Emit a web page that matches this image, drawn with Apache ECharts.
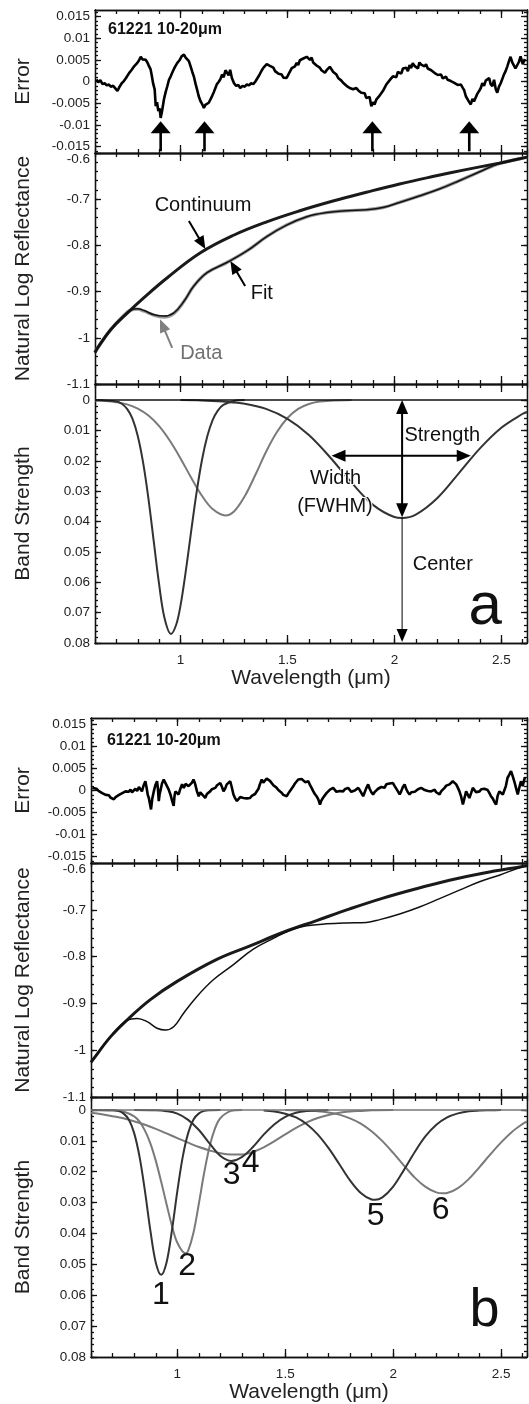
<!DOCTYPE html>
<html><head><meta charset="utf-8">
<script src="https://cdn.jsdelivr.net/npm/echarts@6/dist/echarts.min.js"></script>
<style>html,body{margin:0;padding:0;background:#fff}#c{width:529px;height:1404px}</style>
</head><body><div id="c"></div>
<script>
const FONT = '"Liberation Sans", Arial, Helvetica, sans-serif';

// ---------- tick labels ----------
const xTickLabels = [1, 1.5, 2, 2.5];
const errTickLabels = [-0.015, -0.01, -0.005, 0, 0.005, 0.01, 0.015];
const reflTickLabels = [-1.1, -1, -0.9, -0.8, -0.7, -0.6];
const bandTickLabels = [0, 0.01, 0.02, 0.03, 0.04, 0.05, 0.06, 0.07, 0.08];
const xAxisTitle = 'Wavelength (μm)';
const sampleName = '61221 10-20μm';

// ---------- panel a : error ----------
const errorA = [
[0.607,0.0005],[0.615,-0.0002],[0.625,0.0003],[0.635,-0.0006],[0.645,-0.0004],[0.655,-0.0009],[0.665,-0.0007],[0.674,-0.0012],[0.685,-0.0010],[0.695,-0.0016],
[0.705,-0.0022],[0.715,-0.0012],[0.725,-0.0004],[0.735,0.0001],[0.745,0.0008],[0.752,0.0012],[0.760,0.0020],[0.770,0.0026],[0.783,0.0035],[0.790,0.0033],
[0.798,0.0043],[0.806,0.0049],[0.814,0.0057],[0.822,0.0051],[0.830,0.0055],[0.837,0.0050],[0.845,0.0044],[0.852,0.0036],[0.860,0.0028],[0.866,0.0012],
[0.872,-0.0005],[0.879,-0.0018],[0.884,-0.0057],[0.890,-0.0048],[0.896,-0.0068],[0.902,-0.0062],[0.907,-0.0084],[0.913,-0.0070],[0.918,-0.0055],[0.922,-0.0042],
[0.930,-0.0025],[0.938,-0.0011],[0.946,0.0004],[0.954,0.0012],[0.961,0.0020],[0.970,0.0030],[0.978,0.0037],[0.985,0.0043],[0.995,0.0049],[1.005,0.0058],
[1.016,0.0062],[1.024,0.0055],[1.031,0.0058],[1.039,0.0047],[1.047,0.0035],[1.055,0.0022],[1.062,0.0012],[1.070,-0.0005],[1.078,-0.0020],[1.085,-0.0034],
[1.093,-0.0045],[1.101,-0.0052],[1.109,-0.0061],[1.116,-0.0054],[1.124,-0.0058],[1.132,-0.0049],[1.140,-0.0045],[1.148,-0.0033],[1.156,-0.0024],[1.163,-0.0015],
[1.170,-0.0006],[1.178,-0.0001],[1.186,0.0005],[1.194,0.0016],[1.202,0.0010],[1.210,0.0026],[1.217,0.0024],[1.225,0.0014],[1.232,0.0027],[1.240,0.0008],
[1.250,-0.0004],[1.260,-0.0010],[1.270,-0.0008],[1.279,-0.0015],[1.290,-0.0010],[1.300,-0.0012],[1.310,-0.0007],[1.320,-0.0009],[1.330,-0.0004],[1.340,-0.0006],
[1.350,0.0000],[1.357,0.0001],[1.365,0.0012],[1.372,0.0010],[1.380,0.0026],[1.388,0.0032],[1.395,0.0029],[1.403,0.0040],[1.411,0.0043],[1.418,0.0036],
[1.426,0.0039],[1.434,0.0032],[1.442,0.0024],[1.450,0.0028],[1.458,0.0018],[1.466,0.0020],[1.473,0.0016],[1.481,0.0009],[1.489,0.0013],[1.496,0.0008],
[1.504,0.0016],[1.512,0.0020],[1.520,0.0031],[1.527,0.0028],[1.535,0.0035],[1.543,0.0043],[1.550,0.0038],[1.558,0.0049],[1.566,0.0047],[1.574,0.0053],
[1.582,0.0050],[1.590,0.0057],[1.597,0.0058],[1.605,0.0050],[1.613,0.0055],[1.620,0.0044],[1.628,0.0047],[1.636,0.0037],[1.643,0.0040],[1.651,0.0032],
[1.659,0.0026],[1.667,0.0028],[1.675,0.0020],[1.683,0.0026],[1.690,0.0022],[1.698,0.0034],[1.706,0.0032],[1.714,0.0022],[1.722,0.0025],[1.729,0.0016],
[1.737,0.0008],[1.745,0.0012],[1.752,0.0002],[1.760,-0.0003],[1.768,-0.0001],[1.776,-0.0010],[1.784,-0.0008],[1.791,-0.0015],[1.799,-0.0012],[1.807,-0.0018],
[1.815,-0.0014],[1.822,-0.0015],[1.830,-0.0020],[1.838,-0.0019],[1.845,-0.0026],[1.853,-0.0030],[1.861,-0.0027],[1.868,-0.0038],[1.876,-0.0042],[1.884,-0.0036],
[1.892,-0.0057],[1.899,-0.0048],[1.907,-0.0053],[1.915,-0.0042],[1.922,-0.0046],[1.930,-0.0033],[1.938,-0.0030],[1.946,-0.0022],[1.954,-0.0018],[1.962,-0.0007],
[1.970,-0.0002],[1.978,0.0003],[1.985,0.0001],[1.993,0.0012],[2.001,0.0016],[2.009,0.0010],[2.016,0.0022],[2.024,0.0024],[2.032,0.0018],[2.040,0.0030],
[2.047,0.0027],[2.055,0.0032],[2.063,0.0024],[2.071,0.0038],[2.078,0.0031],[2.086,0.0042],[2.094,0.0036],[2.102,0.0040],[2.110,0.0030],[2.117,0.0044],
[2.125,0.0039],[2.133,0.0043],[2.141,0.0035],[2.148,0.0040],[2.156,0.0030],[2.164,0.0032],[2.172,0.0026],[2.179,0.0028],[2.187,0.0020],[2.195,0.0024],
[2.203,0.0015],[2.210,0.0012],[2.218,0.0016],[2.226,0.0007],[2.233,0.0005],[2.241,0.0011],[2.249,0.0004],[2.257,0.0008],[2.264,0.0001],[2.272,0.0004],
[2.280,-0.0003],[2.288,0.0000],[2.296,-0.0008],[2.303,-0.0005],[2.311,-0.0007],[2.319,-0.0014],[2.326,-0.0020],[2.334,-0.0034],[2.342,-0.0030],[2.349,-0.0047],
[2.357,-0.0053],[2.365,-0.0040],[2.372,-0.0046],[2.380,-0.0042],[2.388,-0.0028],[2.396,-0.0022],[2.404,-0.0015],[2.411,-0.0004],[2.419,-0.0010],[2.427,0.0002],
[2.435,0.0000],[2.443,0.0008],[2.450,-0.0006],[2.458,-0.0011],[2.466,0.0004],[2.474,-0.0018],[2.481,-0.0026],[2.489,-0.0012],[2.497,-0.0004],[2.504,0.0005],
[2.512,0.0016],[2.520,0.0024],[2.528,0.0035],[2.535,0.0046],[2.543,0.0057],[2.551,0.0044],[2.559,0.0040],[2.566,0.0030],[2.574,0.0028],[2.582,0.0045],
[2.590,0.0058],[2.600,0.0040],[2.610,0.0052]
];
const errArrowsA = [[0.907,-0.0161,0.907,-0.0092],[1.112,-0.0161,1.112,-0.0092],[1.897,-0.0161,1.897,-0.0092],[2.350,-0.0161,2.350,-0.0092]];

// ---------- panel a : reflectance ----------
const continuumA = [[0.600,-1.032],[0.612,-1.022],[0.674,-0.982],[0.752,-0.946],[0.829,-0.913],[0.938,-0.870],[1.093,-0.816],[1.248,-0.778],[1.403,-0.749],[1.558,-0.725],[1.713,-0.704],[1.869,-0.685],[2.024,-0.667],[2.179,-0.651],[2.334,-0.636],[2.489,-0.622],[2.590,-0.612],[2.620,-0.609]];
const fitA = [[0.600,-1.032],[0.612,-1.022],[0.674,-0.982],[0.730,-0.954],[0.767,-0.940],[0.798,-0.937],[0.829,-0.941],[0.876,-0.950],[0.922,-0.953],[0.969,-0.946],[1.016,-0.921],[1.062,-0.888],[1.124,-0.859],[1.217,-0.837],[1.310,-0.812],[1.403,-0.781],[1.496,-0.756],[1.590,-0.738],[1.683,-0.729],[1.776,-0.725],[1.869,-0.723],[1.946,-0.718],[2.024,-0.707],[2.117,-0.693],[2.210,-0.678],[2.303,-0.660],[2.396,-0.641],[2.489,-0.623],[2.590,-0.612],[2.620,-0.609]];
const dataA = [[0.600,-1.032],[0.612,-1.022],[0.674,-0.982],[0.730,-0.954],[0.767,-0.940],[0.798,-0.938],[0.829,-0.942],[0.876,-0.951],[0.922,-0.955],[0.969,-0.947],[1.016,-0.921],[1.062,-0.888],[1.124,-0.859],[1.217,-0.837],[1.310,-0.812],[1.403,-0.781],[1.496,-0.756],[1.590,-0.738],[1.683,-0.729],[1.776,-0.725],[1.869,-0.723],[1.946,-0.718],[2.024,-0.707],[2.117,-0.693],[2.210,-0.678],[2.303,-0.660],[2.396,-0.641],[2.489,-0.623],[2.590,-0.612],[2.620,-0.609]];
const reflArrowsA = [[1.039,-0.747,1.116,-0.808],[1.302,-0.888,1.233,-0.834]];
const dataArrowA = [[0.961,-1.022,0.904,-0.960]];
const reflTextPtsA = [[1.105,-0.7145],[1.380,-0.904]];
const reflTextsA = ['Continuum','Fit'];
const dataTextPtA = [[1.097,-1.033]];
const dataTextA = ['Data'];

// ---------- panel a : band strength ----------
const band1A = [[0.60,0],[0.70,0.0005],[0.725,0.0012],[0.75,0.0029],[0.775,0.0061],[0.80,0.0118],[0.825,0.0206],[0.85,0.0325],[0.875,0.0467],[0.90,0.0608],[0.925,0.0718],[0.955,0.0770],[0.98,0.0739],[1.00,0.0676],[1.025,0.0561],[1.05,0.0430],[1.075,0.0304],[1.10,0.0198],[1.125,0.0119],[1.15,0.0066],[1.175,0.0034],[1.20,0.0016],[1.25,0.0003],[1.30,0]];
const band2A = [[0.60,0.0001],[0.65,0.0003],[0.70,0.0007],[0.75,0.0014],[0.80,0.0028],[0.85,0.0051],[0.90,0.0086],[0.95,0.0134],[1.00,0.0192],[1.05,0.0256],[1.10,0.0315],[1.15,0.0359],[1.21,0.0380],[1.25,0.0367],[1.30,0.0317],[1.35,0.0246],[1.40,0.0170],[1.45,0.0106],[1.50,0.0059],[1.55,0.0029],[1.60,0.0013],[1.65,0.0005],[1.70,0.0002],[1.80,0]];
const band3A = [[1.00,0],[1.10,0.0001],[1.20,0.0005],[1.30,0.0012],[1.40,0.0029],[1.50,0.0062],[1.60,0.0115],[1.70,0.0189],[1.80,0.0272],[1.90,0.0345],[2.00,0.0385],[2.036,0.0388],[2.10,0.0377],[2.20,0.0323],[2.30,0.0242],[2.40,0.0159],[2.50,0.0091],[2.60,0.0045],[2.62,0.0039]];
const doubleArrowsA = [[2.036,0,2.036,0.0386],[1.706,0.0183,2.357,0.0183]];
const centerArrowA = [[2.036,0.0388,2.036,0.0797]];
const bandLeftTextPtsA = [[2.047,0.0117],[2.086,0.0543]];
const bandLeftTextsA = ['Strength','Center'];
const bandMidTextPtsA = [[1.725,0.0259],[1.722,0.0349]];
const bandMidTextsA = ['Width','(FWHM)'];
const letterPtA = [[2.424,0.0683]];

// ---------- panel b : error ----------
const errorB = [
[0.606,0.0006],[0.615,0.0002],[0.625,0.0004],[0.635,-0.0001],[0.644,-0.0002],[0.652,-0.0006],[0.660,-0.0004],[0.668,-0.0010],[0.675,-0.0013],[0.683,-0.0011],
[0.690,-0.0016],[0.698,-0.0014],[0.706,-0.0020],[0.714,-0.0015],[0.722,-0.0016],[0.730,-0.0010],[0.737,-0.0013],[0.745,-0.0006],[0.753,-0.0008],[0.760,-0.0002],
[0.768,0.0000],[0.775,-0.0003],[0.783,0.0002],[0.790,-0.0004],[0.798,-0.0002],[0.806,0.0004],[0.814,-0.0001],[0.822,0.0008],[0.829,0.0006],[0.836,-0.0002],
[0.844,0.0012],[0.852,0.0021],[0.858,0.0005],[0.863,-0.0010],[0.868,-0.0017],[0.873,-0.0030],[0.878,-0.0043],[0.884,-0.0018],[0.891,-0.0002],[0.898,0.0012],
[0.906,0.0021],[0.910,0.0004],[0.914,-0.0024],[0.918,-0.0008],[0.921,-0.0002],[0.929,0.0016],[0.937,0.0025],[0.944,0.0018],[0.952,0.0014],[0.960,0.0002],
[0.968,-0.0009],[0.975,-0.0022],[0.983,-0.0035],[0.987,-0.0012],[0.991,-0.0002],[0.998,-0.0006],[1.006,-0.0009],[1.014,0.0004],[1.022,0.0014],[1.030,0.0006],
[1.038,0.0015],[1.045,0.0017],[1.052,0.0010],[1.060,0.0006],[1.068,0.0018],[1.075,0.0025],[1.079,0.0020],[1.083,0.0014],[1.091,-0.0002],[1.099,-0.0013],
[1.106,-0.0004],[1.114,-0.0002],[1.121,-0.0012],[1.129,-0.0017],[1.137,-0.0008],[1.144,-0.0004],[1.152,-0.0002],[1.160,0.0003],[1.168,0.0000],[1.176,0.0006],
[1.184,0.0012],[1.192,0.0010],[1.199,0.0017],[1.207,0.0008],[1.214,-0.0002],[1.222,0.0005],[1.229,0.0014],[1.237,0.0012],[1.245,0.0021],[1.252,0.0008],
[1.260,-0.0009],[1.268,-0.0018],[1.276,-0.0024],[1.284,-0.0020],[1.291,-0.0015],[1.299,-0.0018],[1.306,-0.0017],[1.314,-0.0014],[1.322,-0.0018],[1.330,-0.0016],
[1.337,-0.0017],[1.345,-0.0012],[1.353,-0.0014],[1.360,-0.0008],[1.368,-0.0009],[1.376,0.0004],[1.383,0.0015],[1.391,0.0025],[1.398,0.0018],[1.406,0.0021],
[1.414,0.0027],[1.422,0.0029],[1.429,0.0022],[1.437,0.0021],[1.445,0.0012],[1.452,0.0008],[1.460,0.0006],[1.468,0.0001],[1.475,-0.0003],[1.483,-0.0005],
[1.491,-0.0010],[1.499,-0.0008],[1.507,-0.0013],[1.515,-0.0006],[1.522,-0.0001],[1.530,0.0002],[1.538,0.0010],[1.545,0.0016],[1.553,0.0020],[1.560,0.0025],
[1.568,0.0022],[1.576,0.0026],[1.584,0.0025],[1.592,0.0019],[1.600,0.0023],[1.607,0.0021],[1.615,0.0012],[1.622,0.0006],[1.630,-0.0002],[1.637,-0.0008],
[1.645,-0.0013],[1.653,-0.0020],[1.661,-0.0032],[1.668,-0.0022],[1.676,-0.0016],[1.684,-0.0013],[1.691,-0.0006],[1.699,-0.0002],[1.707,0.0002],[1.714,-0.0001],
[1.722,0.0006],[1.730,0.0002],[1.737,-0.0003],[1.745,-0.0005],[1.753,-0.0001],[1.760,0.0003],[1.768,-0.0002],[1.776,0.0003],[1.784,0.0001],[1.791,0.0006],
[1.799,0.0002],[1.806,-0.0003],[1.814,-0.0005],[1.822,0.0000],[1.830,0.0004],[1.838,0.0006],[1.845,0.0001],[1.853,-0.0006],[1.861,-0.0013],[1.868,-0.0004],
[1.876,0.0006],[1.884,0.0014],[1.891,0.0004],[1.899,-0.0004],[1.907,-0.0009],[1.915,-0.0003],[1.922,-0.0001],[1.930,0.0004],[1.938,0.0002],[1.945,0.0008],
[1.953,0.0010],[1.960,0.0006],[1.968,0.0014],[1.976,0.0011],[1.983,0.0016],[1.991,0.0013],[1.999,0.0017],[2.007,0.0010],[2.015,0.0006],[2.022,-0.0002],
[2.030,-0.0009],[2.037,-0.0002],[2.045,0.0008],[2.053,0.0014],[2.060,0.0004],[2.068,-0.0004],[2.076,-0.0009],[2.084,-0.0004],[2.092,-0.0001],[2.100,-0.0003],
[2.107,-0.0002],[2.115,0.0003],[2.123,0.0001],[2.130,0.0006],[2.138,0.0006],[2.146,0.0001],[2.153,-0.0003],[2.161,-0.0001],[2.169,-0.0005],[2.176,-0.0002],
[2.184,0.0002],[2.192,0.0002],[2.199,-0.0004],[2.207,-0.0008],[2.215,-0.0009],[2.222,-0.0002],[2.230,0.0002],[2.238,0.0006],[2.246,0.0011],[2.253,0.0013],
[2.261,0.0014],[2.269,0.0018],[2.276,0.0021],[2.284,0.0021],[2.292,0.0014],[2.300,0.0006],[2.307,-0.0002],[2.315,-0.0014],[2.323,-0.0032],[2.330,-0.0018],
[2.338,-0.0002],[2.346,-0.0010],[2.353,-0.0017],[2.361,-0.0006],[2.369,0.0006],[2.377,0.0002],[2.384,-0.0004],[2.392,0.0000],[2.400,-0.0002],[2.408,0.0003],
[2.415,0.0001],[2.422,0.0004],[2.430,0.0006],[2.438,0.0001],[2.446,-0.0006],[2.453,-0.0013],[2.461,-0.0018],[2.469,-0.0026],[2.477,-0.0032],[2.484,-0.0012],
[2.492,-0.0002],[2.500,-0.0006],[2.508,-0.0009],[2.515,-0.0009],[2.522,0.0010],[2.530,0.0029],[2.538,0.0036],[2.546,0.0044],[2.553,0.0034],[2.561,0.0021],
[2.569,0.0006],[2.577,-0.0009],[2.584,0.0006],[2.592,0.0021],[2.600,0.0010],[2.610,0.0030]
];

// ---------- panel b : reflectance ----------
const continuumB = [[0.600,-1.026],[0.606,-1.022],[0.691,-0.971],[0.768,-0.935],[0.875,-0.892],[0.999,-0.853],[1.183,-0.806],[1.337,-0.777],[1.491,-0.748],[1.645,-0.723],[1.799,-0.698],[1.953,-0.675],[2.107,-0.655],[2.261,-0.637],[2.415,-0.622],[2.592,-0.608],[2.620,-0.606]];
const fitB = [[0.600,-1.026],[0.606,-1.022],[0.691,-0.971],[0.768,-0.936],[0.814,-0.932],[0.860,-0.939],[0.906,-0.953],[0.945,-0.957],[0.983,-0.950],[1.029,-0.921],[1.091,-0.885],[1.168,-0.849],[1.260,-0.817],[1.352,-0.784],[1.445,-0.761],[1.537,-0.741],[1.599,-0.734],[1.691,-0.730],[1.783,-0.728],[1.876,-0.727],[1.938,-0.721],[2.030,-0.709],[2.122,-0.694],[2.215,-0.676],[2.307,-0.658],[2.400,-0.640],[2.492,-0.626],[2.592,-0.609],[2.620,-0.606]];

// ---------- panel b : band strength ----------
const band1B = [[0.60,0],[0.70,0.0001],[0.725,0.0003],[0.75,0.0011],[0.775,0.0031],[0.80,0.0075],[0.825,0.0152],[0.85,0.0263],[0.875,0.0390],[0.90,0.0494],[0.925,0.0534],[0.95,0.0494],[0.975,0.0390],[1.00,0.0263],[1.025,0.0152],[1.05,0.0075],[1.075,0.0031],[1.10,0.0011],[1.125,0.0003],[1.15,0.0001],[1.20,0]];
const band2B = [[0.60,0],[0.70,0.0001],[0.75,0.0005],[0.80,0.0021],[0.825,0.0038],[0.85,0.0067],[0.875,0.0108],[0.90,0.0164],[0.925,0.0232],[0.95,0.0305],[0.975,0.0375],[1.00,0.0430],[1.037,0.0464],[1.05,0.0456],[1.075,0.0397],[1.10,0.0302],[1.125,0.0201],[1.15,0.0117],[1.175,0.0059],[1.20,0.0026],[1.25,0.0003],[1.30,0]];
const band3B = [[0.80,0],[0.90,0.0001],[0.95,0.0004],[1.00,0.0012],[1.05,0.0032],[1.10,0.0065],[1.15,0.0109],[1.20,0.0149],[1.25,0.0165],[1.30,0.0152],[1.35,0.0120],[1.40,0.0080],[1.45,0.0046],[1.50,0.0022],[1.55,0.0009],[1.60,0.0003],[1.65,0.0001],[1.70,0]];
const band4B = [[0.60,0.0009],[0.65,0.0014],[0.70,0.0020],[0.75,0.0027],[0.80,0.0037],[0.85,0.0048],[0.90,0.0061],[0.95,0.0076],[1.00,0.0091],[1.05,0.0106],[1.10,0.0120],[1.15,0.0131],[1.20,0.0140],[1.25,0.0144],[1.30,0.0144],[1.35,0.0136],[1.40,0.0121],[1.45,0.0101],[1.50,0.0079],[1.55,0.0058],[1.60,0.0040],[1.65,0.0026],[1.70,0.0016],[1.75,0.0009],[1.80,0.0005],[1.85,0.0003],[1.90,0.0001],[2.00,0]];
const band5B = [[1.40,0.0002],[1.45,0.0005],[1.50,0.0012],[1.55,0.0024],[1.60,0.0046],[1.65,0.0079],[1.70,0.0123],[1.75,0.0175],[1.80,0.0228],[1.85,0.0269],[1.90,0.0290],[1.915,0.0291],[1.95,0.0283],[2.00,0.0248],[2.05,0.0194],[2.10,0.0136],[2.15,0.0085],[2.20,0.0048],[2.25,0.0024],[2.30,0.0011],[2.35,0.0004],[2.40,0.0002],[2.45,0.0001],[2.50,0]];
const band6B = [[1.50,0],[1.55,0.0001],[1.60,0.0002],[1.65,0.0004],[1.70,0.0008],[1.75,0.0015],[1.80,0.0027],[1.85,0.0044],[1.90,0.0069],[1.95,0.0101],[2.00,0.0139],[2.05,0.0180],[2.10,0.0219],[2.15,0.0249],[2.20,0.0267],[2.23,0.0270],[2.25,0.0269],[2.30,0.0253],[2.35,0.0224],[2.40,0.0185],[2.45,0.0144],[2.50,0.0105],[2.55,0.0071],[2.60,0.0045],[2.62,0.0037]];
const numberPtsB = [[0.924,0.0599],[1.045,0.0507],[1.252,0.0210],[1.340,0.0173],[1.919,0.0345],[2.220,0.0324]];
const numberTextsB = ['1','2','3','4','5','6'];
const letterPtB = [[2.423,0.0653]];

// ---------- helpers ----------
function steps(a, b, s) { const out = []; const n = Math.round((b - a) / s); for (let i = 0; i <= n; i++) out.push(+(a + i * s).toFixed(6)); return out; }
const errMinor = steps(-0.016, 0.016, 0.001);
const reflMinor = steps(-1.1, -0.6, 0.02);
const bandMinor = steps(0, 0.08, 0.002);

const panels = [
  { grid: {left:95, top:10, width:432, height:143}, kind:'err', min:-0.0165, max:0.0165, labels:errTickLabels, minor:errMinor, name:'Error', nameGap:61 },
  { grid: {left:95, top:153, width:432, height:231}, kind:'refl', min:-1.1, max:-0.6, labels:reflTickLabels, minor:reflMinor, name:'Natural Log Reflectance', nameGap:61 },
  { grid: {left:95, top:384, width:432, height:259}, kind:'band', min:-0.0053, max:0.08, labels:bandTickLabels, minor:bandMinor, name:'Band Strength', nameGap:61 },
  { grid: {left:91, top:718, width:436, height:145}, kind:'err', min:-0.0165, max:0.0165, labels:errTickLabels, minor:errMinor, name:'Error', nameGap:57 },
  { grid: {left:91, top:863, width:436, height:234}, kind:'refl', min:-1.1, max:-0.6, labels:reflTickLabels, minor:reflMinor, name:'Natural Log Reflectance', nameGap:57 },
  { grid: {left:91, top:1097, width:436, height:260}, kind:'band', min:-0.0042, max:0.08, labels:bandTickLabels, minor:bandMinor, name:'Band Strength', nameGap:57 }
];

const grids = [], xAxes = [], yAxes = [], mainX = [], mainY = [];
const AX = { color:'#111', width:1.3 };
panels.forEach((p, g) => {
  grids.push(p.grid);
  const isBand = p.kind === 'band';
  const xc = { type:'value', gridIndex:g, min:0.6, max:2.62, splitLine:{show:false}, axisLine:{onZero:false, lineStyle:AX} };
  mainX.push(xAxes.length);
  xAxes.push(Object.assign({}, xc, { position:'bottom',
    axisTick:{inside:true, length:8, customValues:xTickLabels, lineStyle:AX},
    axisLabel:{show:isBand, customValues:xTickLabels, margin:10, fontSize:13.5, color:'#222', fontFamily:FONT},
    name: isBand ? xAxisTitle : '', nameLocation:'middle', nameGap:23,
    nameTextStyle:{fontSize:21, color:'#222', fontFamily:FONT} }));
  xAxes.push(Object.assign({}, xc, { position:'bottom', interval:0.1, axisTick:{inside:true, length:4, lineStyle:AX}, axisLabel:{show:false} }));
  xAxes.push(Object.assign({}, xc, { position:'top', axisTick:{inside:true, length:8, customValues:xTickLabels, lineStyle:AX}, axisLabel:{show:false} }));
  xAxes.push(Object.assign({}, xc, { position:'top', interval:0.1, axisTick:{inside:true, length:4, lineStyle:AX}, axisLabel:{show:false} }));

  const yc = { type:'value', gridIndex:g, min:p.min, max:p.max, inverse:isBand, splitLine:{show:false}, axisLine:{onZero:false, lineStyle:AX} };
  mainY.push(yAxes.length);
  yAxes.push(Object.assign({}, yc, { position:'left',
    axisTick:{inside:true, length:6, customValues:p.labels, lineStyle:AX},
    axisLabel:{customValues:p.labels, margin:5, fontSize:13.5, color:'#222', fontFamily:FONT,
      formatter: v => { const s = String(+(+v).toFixed(4)); return (p.kind === 'refl' && Math.abs(v + 0.6) < 1e-9) ? '{d|' + s + '}' : s; },
      rich:{ d:{ padding:[12,0,0,0], fontSize:13.5, color:'#222', fontFamily:FONT } } },
    name:p.name, nameLocation:'middle', nameGap:p.nameGap,
    nameTextStyle:{fontSize:21, color:'#222', fontFamily:FONT} }));
  yAxes.push(Object.assign({}, yc, { position:'left', axisTick:{inside:true, length:3, customValues:p.minor, lineStyle:AX}, axisLabel:{show:false} }));
  yAxes.push(Object.assign({}, yc, { position:'right', axisTick:{inside:true, length:6, customValues:p.labels, lineStyle:AX}, axisLabel:{show:false} }));
  yAxes.push(Object.assign({}, yc, { position:'right', axisTick:{inside:true, length:3, customValues:p.minor, lineStyle:AX}, axisLabel:{show:false} }));
});

const series = [];
function line(g, data, color, width, smooth, z) {
  series.push({ type:'line', xAxisIndex:mainX[g], yAxisIndex:mainY[g], data, showSymbol:false, symbol:'none',
    smooth: smooth, lineStyle:{color, width}, z: z || 3, silent:true, animation:false });
}
function arrows(g, data, o) {
  series.push({ type:'custom', xAxisIndex:mainX[g], yAxisIndex:mainY[g], data, clip:false, silent:true, z:10, animation:false,
    renderItem: (params, api) => {
      const a = api.coord([api.value(0), api.value(1)]);
      const b = api.coord([api.value(2), api.value(3)]);
      const dx = b[0] - a[0], dy = b[1] - a[1], L = Math.hypot(dx, dy);
      const ux = dx / L, uy = dy / L, nx = -uy, ny = ux;
      const hl = o.headL, hw = o.headW / 2;
      const s = o.double ? [a[0] + ux * hl * 0.8, a[1] + uy * hl * 0.8] : a;
      const e = [b[0] - ux * hl * 0.8, b[1] - uy * hl * 0.8];
      const head = (t, vx, vy) => ({ type:'polygon', shape:{ points:[[t[0], t[1]], [t[0] - vx * hl + nx * hw, t[1] - vy * hl + ny * hw], [t[0] - vx * hl - nx * hw, t[1] - vy * hl - ny * hw]] }, style:{ fill:o.color } });
      const children = [{ type:'line', shape:{ x1:s[0], y1:s[1], x2:e[0], y2:e[1] }, style:{ stroke:o.color, lineWidth:o.width } }, head(b, ux, uy)];
      if (o.double) children.push(head(a, -ux, -uy));
      return { type:'group', children };
    } });
}
function texts(g, pts, labels, o) {
  series.push({ type:'custom', xAxisIndex:mainX[g], yAxisIndex:mainY[g], data:pts, clip:false, silent:true, z:12, animation:false,
    renderItem: (params, api) => {
      const p = api.coord([api.value(0), api.value(1)]);
      const st = { text:labels[params.dataIndex], font:o.font, fill:o.color || '#111', align:o.align || 'center', verticalAlign:'middle' };
      if (o.halo) { st.stroke = '#fff'; st.lineWidth = o.halo; }
      return { type:'text', x:p[0], y:p[1], style:st };
    } });
}

// panel a
line(0, errorA, '#000', 2.6, false);
arrows(0, errArrowsA, { color:'#000', width:2.6, headW:20, headL:12 });
texts(0, [[0.661, 0.0120]], [sampleName], { font:'bold 16px ' + FONT, align:'left', color:'#111' });

line(1, dataA, '#9a9a9a', 3.4, 0.4, 2);
line(1, continuumA, '#1a1a1a', 3, 0.4, 3);
line(1, fitA, '#111', 1.5, 0.4, 4);
arrows(1, reflArrowsA, { color:'#000', width:2, headW:11, headL:13 });
arrows(1, dataArrowA, { color:'#808080', width:2, headW:11, headL:13 });
texts(1, reflTextPtsA, reflTextsA, { font:'20px ' + FONT, color:'#111' });
texts(1, dataTextPtA, dataTextA, { font:'20px ' + FONT, color:'#707070' });

series.push({ type:'line', xAxisIndex:mainX[2], yAxisIndex:mainY[2], data:[], silent:true, animation:false,
  markLine:{ symbol:'none', silent:true, label:{show:false}, lineStyle:{color:'#111', width:1.5, type:'solid'}, data:[{yAxis:0}] } });
line(2, band2A, '#7a7a7a', 2, 0.35);
line(2, band1A, '#333', 2, 0.35);
line(2, band3A, '#333', 2, 0.35);
arrows(2, doubleArrowsA, { color:'#000', width:2, headW:12, headL:14, double:true });
arrows(2, centerArrowA, { color:'#000', width:1, headW:11, headL:13 });
texts(2, bandLeftTextPtsA, bandLeftTextsA, { font:'20px ' + FONT, align:'left', color:'#111' });
texts(2, bandMidTextPtsA, bandMidTextsA, { font:'20px ' + FONT, color:'#111', halo:2 });
texts(2, letterPtA, ['a'], { font:'60px ' + FONT, color:'#111' });

// panel b
line(3, errorB, '#000', 2.6, false);
texts(3, [[0.674, 0.0113]], [sampleName], { font:'bold 16px ' + FONT, align:'left', color:'#111' });

line(4, continuumB, '#1a1a1a', 3, 0.4, 3);
line(4, fitB, '#111', 1.5, 0.4, 4);

series.push({ type:'line', xAxisIndex:mainX[5], yAxisIndex:mainY[5], data:[], silent:true, animation:false,
  markLine:{ symbol:'none', silent:true, label:{show:false}, lineStyle:{color:'#777', width:1.6, type:'solid'}, data:[{yAxis:0}] } });
line(5, band2B, '#7a7a7a', 2, 0.35);
line(5, band4B, '#7a7a7a', 2, 0.35);
line(5, band6B, '#7a7a7a', 2, 0.35);
line(5, band1B, '#333', 2, 0.35);
line(5, band3B, '#333', 2, 0.35);
line(5, band5B, '#333', 2, 0.35);
texts(5, numberPtsB, numberTextsB, { font:'32px ' + FONT, color:'#111' });
texts(5, letterPtB, ['b'], { font:'54px ' + FONT, color:'#111' });

const chart = echarts.init(document.getElementById('c'), null, { renderer:'canvas' });
chart.setOption({ backgroundColor:'#fff', animation:false, grid:grids, xAxis:xAxes, yAxis:yAxes, series });
</script></body></html>
